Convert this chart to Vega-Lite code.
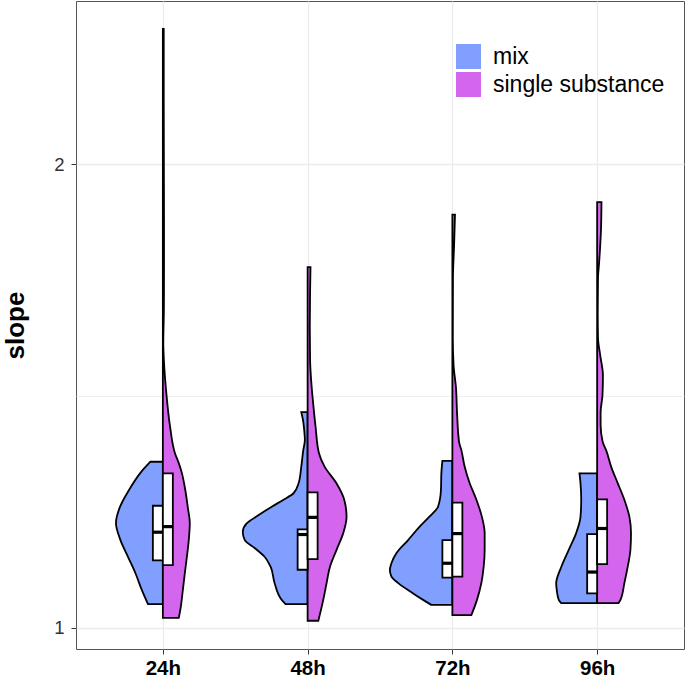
{
  "$schema": "https://vega.github.io/schema/vega-lite/v6.json",
  "width": 608,
  "height": 648,
  "autosize": {"type": "none"},
  "padding": {"left": 76, "top": 1, "right": 1, "bottom": 29},
  "background": "white",
  "config": {
    "view": {"stroke": "#555555", "strokeWidth": 1},
    "font": "Liberation Sans",
    "axis": {"domain": false, "grid": true, "gridColor": "#EBEBEB", "gridWidth": 1.3, "tickColor": "#333333", "tickSize": 5, "tickWidth": 1}
  },
  "datasets": {
    "violin": [
      {"t": "24h", "g": "mix", "s": 1.358, "d": 0.086},
      {"t": "24h", "g": "mix", "s": 1.334, "d": 0.155},
      {"t": "24h", "g": "mix", "s": 1.297, "d": 0.234},
      {"t": "24h", "g": "mix", "s": 1.260, "d": 0.297},
      {"t": "24h", "g": "mix", "s": 1.226, "d": 0.324},
      {"t": "24h", "g": "mix", "s": 1.189, "d": 0.293},
      {"t": "24h", "g": "mix", "s": 1.153, "d": 0.241},
      {"t": "24h", "g": "mix", "s": 1.118, "d": 0.190},
      {"t": "24h", "g": "mix", "s": 1.081, "d": 0.145},
      {"t": "24h", "g": "mix", "s": 1.051, "d": 0.103},
      {"t": "24h", "g": "single substance", "s": 2.292, "d": 0.006},
      {"t": "24h", "g": "single substance", "s": 2.139, "d": 0.006},
      {"t": "24h", "g": "single substance", "s": 1.998, "d": 0.007},
      {"t": "24h", "g": "single substance", "s": 1.858, "d": 0.008},
      {"t": "24h", "g": "single substance", "s": 1.793, "d": 0.008},
      {"t": "24h", "g": "single substance", "s": 1.686, "d": 0.007},
      {"t": "24h", "g": "single substance", "s": 1.614, "d": 0.003},
      {"t": "24h", "g": "single substance", "s": 1.578, "d": 0.007},
      {"t": "24h", "g": "single substance", "s": 1.506, "d": 0.024},
      {"t": "24h", "g": "single substance", "s": 1.433, "d": 0.050},
      {"t": "24h", "g": "single substance", "s": 1.377, "d": 0.083},
      {"t": "24h", "g": "single substance", "s": 1.355, "d": 0.110},
      {"t": "24h", "g": "single substance", "s": 1.334, "d": 0.131},
      {"t": "24h", "g": "single substance", "s": 1.297, "d": 0.155},
      {"t": "24h", "g": "single substance", "s": 1.260, "d": 0.172},
      {"t": "24h", "g": "single substance", "s": 1.226, "d": 0.186},
      {"t": "24h", "g": "single substance", "s": 1.189, "d": 0.179},
      {"t": "24h", "g": "single substance", "s": 1.153, "d": 0.166},
      {"t": "24h", "g": "single substance", "s": 1.118, "d": 0.152},
      {"t": "24h", "g": "single substance", "s": 1.081, "d": 0.138},
      {"t": "24h", "g": "single substance", "s": 1.045, "d": 0.124},
      {"t": "24h", "g": "single substance", "s": 1.021, "d": 0.110},
      {"t": "48h", "g": "mix", "s": 1.465, "d": 0.044},
      {"t": "48h", "g": "mix", "s": 1.448, "d": 0.032},
      {"t": "48h", "g": "mix", "s": 1.420, "d": 0.022},
      {"t": "48h", "g": "mix", "s": 1.405, "d": 0.019},
      {"t": "48h", "g": "mix", "s": 1.383, "d": 0.030},
      {"t": "48h", "g": "mix", "s": 1.347, "d": 0.044},
      {"t": "48h", "g": "mix", "s": 1.312, "d": 0.062},
      {"t": "48h", "g": "mix", "s": 1.290, "d": 0.097},
      {"t": "48h", "g": "mix", "s": 1.276, "d": 0.166},
      {"t": "48h", "g": "mix", "s": 1.261, "d": 0.248},
      {"t": "48h", "g": "mix", "s": 1.243, "d": 0.338},
      {"t": "48h", "g": "mix", "s": 1.225, "d": 0.421},
      {"t": "48h", "g": "mix", "s": 1.207, "d": 0.448},
      {"t": "48h", "g": "mix", "s": 1.189, "d": 0.434},
      {"t": "48h", "g": "mix", "s": 1.172, "d": 0.366},
      {"t": "48h", "g": "mix", "s": 1.153, "d": 0.297},
      {"t": "48h", "g": "mix", "s": 1.131, "d": 0.255},
      {"t": "48h", "g": "mix", "s": 1.096, "d": 0.228},
      {"t": "48h", "g": "mix", "s": 1.060, "d": 0.179},
      {"t": "48h", "g": "mix", "s": 1.051, "d": 0.152},
      {"t": "48h", "g": "single substance", "s": 1.778, "d": 0.020},
      {"t": "48h", "g": "single substance", "s": 1.722, "d": 0.017},
      {"t": "48h", "g": "single substance", "s": 1.649, "d": 0.015},
      {"t": "48h", "g": "single substance", "s": 1.578, "d": 0.017},
      {"t": "48h", "g": "single substance", "s": 1.519, "d": 0.028},
      {"t": "48h", "g": "single substance", "s": 1.485, "d": 0.038},
      {"t": "48h", "g": "single substance", "s": 1.433, "d": 0.055},
      {"t": "48h", "g": "single substance", "s": 1.377, "d": 0.078},
      {"t": "48h", "g": "single substance", "s": 1.347, "d": 0.118},
      {"t": "48h", "g": "single substance", "s": 1.312, "d": 0.198},
      {"t": "48h", "g": "single substance", "s": 1.276, "d": 0.253},
      {"t": "48h", "g": "single substance", "s": 1.239, "d": 0.269},
      {"t": "48h", "g": "single substance", "s": 1.204, "d": 0.246},
      {"t": "48h", "g": "single substance", "s": 1.168, "d": 0.200},
      {"t": "48h", "g": "single substance", "s": 1.131, "d": 0.154},
      {"t": "48h", "g": "single substance", "s": 1.096, "d": 0.131},
      {"t": "48h", "g": "single substance", "s": 1.060, "d": 0.108},
      {"t": "48h", "g": "single substance", "s": 1.015, "d": 0.074},
      {"t": "72h", "g": "mix", "s": 1.360, "d": 0.069},
      {"t": "72h", "g": "mix", "s": 1.334, "d": 0.076},
      {"t": "72h", "g": "mix", "s": 1.297, "d": 0.079},
      {"t": "72h", "g": "mix", "s": 1.261, "d": 0.099},
      {"t": "72h", "g": "mix", "s": 1.240, "d": 0.157},
      {"t": "72h", "g": "mix", "s": 1.218, "d": 0.226},
      {"t": "72h", "g": "mix", "s": 1.189, "d": 0.306},
      {"t": "72h", "g": "mix", "s": 1.161, "d": 0.386},
      {"t": "72h", "g": "mix", "s": 1.139, "d": 0.421},
      {"t": "72h", "g": "mix", "s": 1.125, "d": 0.432},
      {"t": "72h", "g": "mix", "s": 1.110, "d": 0.421},
      {"t": "72h", "g": "mix", "s": 1.096, "d": 0.374},
      {"t": "72h", "g": "mix", "s": 1.074, "d": 0.271},
      {"t": "72h", "g": "mix", "s": 1.060, "d": 0.202},
      {"t": "72h", "g": "mix", "s": 1.049, "d": 0.145},
      {"t": "72h", "g": "single substance", "s": 1.891, "d": 0.018},
      {"t": "72h", "g": "single substance", "s": 1.826, "d": 0.012},
      {"t": "72h", "g": "single substance", "s": 1.755, "d": 0.004},
      {"t": "72h", "g": "single substance", "s": 1.625, "d": 0.003},
      {"t": "72h", "g": "single substance", "s": 1.567, "d": 0.008},
      {"t": "72h", "g": "single substance", "s": 1.517, "d": 0.025},
      {"t": "72h", "g": "single substance", "s": 1.465, "d": 0.032},
      {"t": "72h", "g": "single substance", "s": 1.401, "d": 0.046},
      {"t": "72h", "g": "single substance", "s": 1.383, "d": 0.062},
      {"t": "72h", "g": "single substance", "s": 1.347, "d": 0.085},
      {"t": "72h", "g": "single substance", "s": 1.312, "d": 0.119},
      {"t": "72h", "g": "single substance", "s": 1.276, "d": 0.166},
      {"t": "72h", "g": "single substance", "s": 1.239, "d": 0.204},
      {"t": "72h", "g": "single substance", "s": 1.204, "d": 0.223},
      {"t": "72h", "g": "single substance", "s": 1.168, "d": 0.223},
      {"t": "72h", "g": "single substance", "s": 1.131, "d": 0.216},
      {"t": "72h", "g": "single substance", "s": 1.096, "d": 0.200},
      {"t": "72h", "g": "single substance", "s": 1.060, "d": 0.170},
      {"t": "72h", "g": "single substance", "s": 1.027, "d": 0.131},
      {"t": "96h", "g": "mix", "s": 1.333, "d": 0.122},
      {"t": "96h", "g": "mix", "s": 1.312, "d": 0.115},
      {"t": "96h", "g": "mix", "s": 1.276, "d": 0.110},
      {"t": "96h", "g": "mix", "s": 1.239, "d": 0.115},
      {"t": "96h", "g": "mix", "s": 1.204, "d": 0.145},
      {"t": "96h", "g": "mix", "s": 1.168, "d": 0.196},
      {"t": "96h", "g": "mix", "s": 1.131, "d": 0.248},
      {"t": "96h", "g": "mix", "s": 1.096, "d": 0.283},
      {"t": "96h", "g": "mix", "s": 1.081, "d": 0.279},
      {"t": "96h", "g": "mix", "s": 1.060, "d": 0.265},
      {"t": "96h", "g": "mix", "s": 1.053, "d": 0.248},
      {"t": "96h", "g": "single substance", "s": 1.918, "d": 0.030},
      {"t": "96h", "g": "single substance", "s": 1.863, "d": 0.027},
      {"t": "96h", "g": "single substance", "s": 1.789, "d": 0.014},
      {"t": "96h", "g": "single substance", "s": 1.755, "d": 0.006},
      {"t": "96h", "g": "single substance", "s": 1.681, "d": 0.004},
      {"t": "96h", "g": "single substance", "s": 1.625, "d": 0.006},
      {"t": "96h", "g": "single substance", "s": 1.588, "d": 0.021},
      {"t": "96h", "g": "single substance", "s": 1.545, "d": 0.040},
      {"t": "96h", "g": "single substance", "s": 1.502, "d": 0.037},
      {"t": "96h", "g": "single substance", "s": 1.465, "d": 0.024},
      {"t": "96h", "g": "single substance", "s": 1.437, "d": 0.024},
      {"t": "96h", "g": "single substance", "s": 1.401, "d": 0.038},
      {"t": "96h", "g": "single substance", "s": 1.383, "d": 0.062},
      {"t": "96h", "g": "single substance", "s": 1.347, "d": 0.097},
      {"t": "96h", "g": "single substance", "s": 1.312, "d": 0.142},
      {"t": "96h", "g": "single substance", "s": 1.276, "d": 0.188},
      {"t": "96h", "g": "single substance", "s": 1.239, "d": 0.223},
      {"t": "96h", "g": "single substance", "s": 1.204, "d": 0.234},
      {"t": "96h", "g": "single substance", "s": 1.168, "d": 0.230},
      {"t": "96h", "g": "single substance", "s": 1.131, "d": 0.211},
      {"t": "96h", "g": "single substance", "s": 1.096, "d": 0.188},
      {"t": "96h", "g": "single substance", "s": 1.060, "d": 0.161},
      {"t": "96h", "g": "single substance", "s": 1.053, "d": 0.147}
    ],
    "box": [
      {"t": "24h", "g": "mix", "q1": 1.145, "med": 1.206, "q3": 1.263},
      {"t": "24h", "g": "single substance", "q1": 1.135, "med": 1.218, "q3": 1.333},
      {"t": "48h", "g": "mix", "q1": 1.125, "med": 1.201, "q3": 1.212},
      {"t": "48h", "g": "single substance", "q1": 1.148, "med": 1.238, "q3": 1.292},
      {"t": "72h", "g": "mix", "q1": 1.108, "med": 1.139, "q3": 1.189},
      {"t": "72h", "g": "single substance", "q1": 1.110, "med": 1.203, "q3": 1.270},
      {"t": "96h", "g": "mix", "q1": 1.074, "med": 1.120, "q3": 1.202},
      {"t": "96h", "g": "single substance", "q1": 1.137, "med": 1.214, "q3": 1.277}
    ]
  },
  "layer": [
    {
      "data": {"name": "violin"},
      "transform": [
        {"calculate": "indexof(['24h','48h','72h','96h'], datum.t) + 1", "as": "xc"},
        {"calculate": "datum.xc + (datum.g == 'mix' ? -datum.d : datum.d)", "as": "xe"}
      ],
      "mark": {"type": "area", "orient": "horizontal", "interpolate": "monotone", "stroke": "black", "strokeWidth": 1.8, "opacity": 1, "fillOpacity": 1},
      "encoding": {
        "y": {
          "field": "s", "type": "quantitative",
          "scale": {"domain": [0.954, 2.352], "nice": false, "zero": false},
          "axis": {
            "values": [1, 1.5, 2],
            "labelExpr": "datum.value == 1.5 ? '' : format(datum.value, 'd')",
            "tickOpacity": {"condition": {"test": "datum.value == 1.5", "value": 0}, "value": 1},
            "gridWidth": {"condition": {"test": "datum.value == 1.5", "value": 0.8}, "value": 1.3},
            "title": "slope", "titleFontSize": 26, "titleFontWeight": "bold", "titleColor": "black",
            "titleX": -61, "titleY": 324, "titleAngle": -90, "titleAlign": "center", "titleBaseline": "middle",
            "labelFontSize": 18.5, "labelColor": "#333333", "labelPadding": 7
          }
        },
        "x": {
          "field": "xe", "type": "quantitative",
          "scale": {"domain": [0.4, 4.6], "nice": false, "zero": false},
          "axis": {
            "values": [1, 2, 3, 4],
            "labelExpr": "['', '24h', '48h', '72h', '96h'][datum.value]",
            "title": null, "labelFontSize": 20.5, "labelFontWeight": "bold", "labelColor": "black", "labelPadding": 4
          }
        },
        "x2": {"field": "xc"},
        "detail": {"field": "t"},
        "fill": {
          "field": "g", "type": "nominal",
          "scale": {"domain": ["mix", "single substance"], "range": ["#809FFF", "#D466EE"]},
          "legend": {
            "orient": "none", "legendX": 380, "legendY": 43, "title": null, "padding": 0,
            "symbolType": "square", "symbolSize": 625, "symbolStrokeWidth": 0, "symbolOpacity": 1,
            "labelFontSize": 23, "labelColor": "black", "labelOffset": 12, "labelLimit": 0, "rowPadding": 3
          }
        }
      }
    },
    {
      "data": {"name": "box"},
      "transform": [
        {"calculate": "indexof(['24h','48h','72h','96h'], datum.t) + 1", "as": "xc"},
        {"calculate": "datum.g == 'mix' ? datum.xc - 0.069 : datum.xc", "as": "b0"},
        {"calculate": "datum.g == 'mix' ? datum.xc : datum.xc + 0.069", "as": "b1"}
      ],
      "mark": {"type": "rect", "fill": "white", "stroke": "black", "strokeWidth": 1.8},
      "encoding": {
        "x": {"field": "b0", "type": "quantitative", "title": null},
        "x2": {"field": "b1"},
        "y": {"field": "q1", "type": "quantitative", "title": "slope"},
        "y2": {"field": "q3"}
      }
    },
    {
      "data": {"name": "box"},
      "transform": [
        {"calculate": "indexof(['24h','48h','72h','96h'], datum.t) + 1", "as": "xc"},
        {"calculate": "datum.g == 'mix' ? datum.xc - 0.069 : datum.xc", "as": "b0"},
        {"calculate": "datum.g == 'mix' ? datum.xc : datum.xc + 0.069", "as": "b1"}
      ],
      "mark": {"type": "rule", "stroke": "black", "strokeWidth": 3.2},
      "encoding": {
        "x": {"field": "b0", "type": "quantitative", "title": null},
        "x2": {"field": "b1"},
        "y": {"field": "med", "type": "quantitative", "title": "slope"}
      }
    }
  ]
}
